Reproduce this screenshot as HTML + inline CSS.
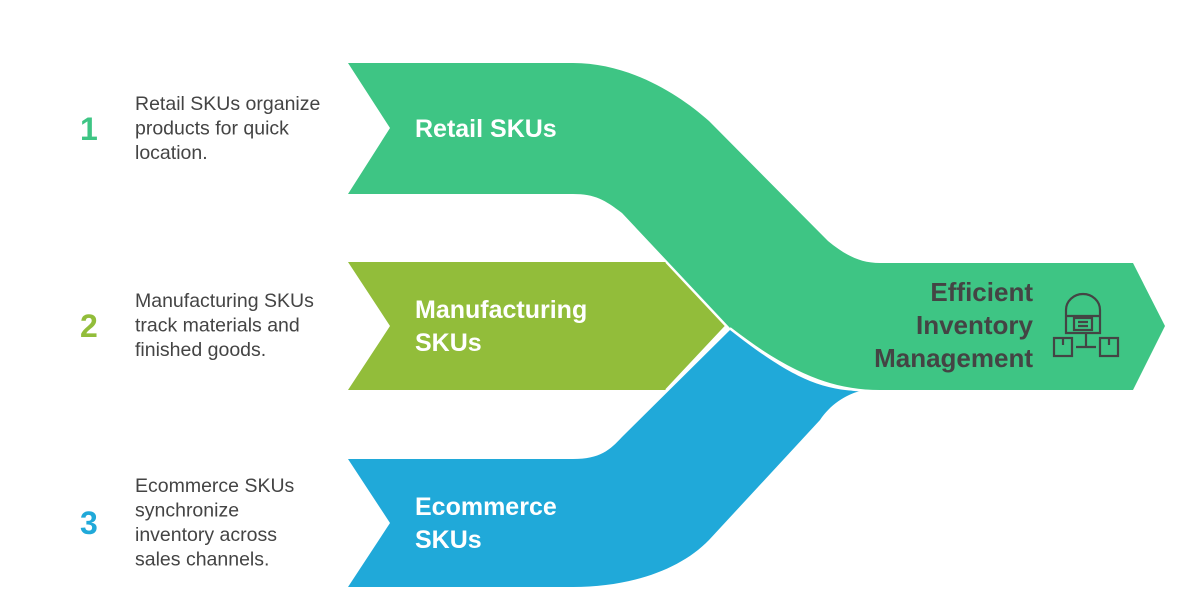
<!DOCTYPE html>
<html><head><meta charset="utf-8"><style>
body{margin:0;width:1200px;height:600px;background:#fff;overflow:hidden;font-family:"Liberation Sans",sans-serif}
</style></head><body>
<svg width="1200" height="600" viewBox="0 0 1200 600" xmlns="http://www.w3.org/2000/svg" font-family="Liberation Sans, sans-serif">
<path d="M348,63 L573,63 C630,63 680,95 709,121 L828,241 C845,255 860,263 880,263 L1133,263 L1165,326 L1133,390 L880,390 C830,390 790,372 730,328 L622,213 C605,200 595,194 573,194 L348,194 L390,128 Z" fill="#3ec584"/>
<path d="M348,262 L666,262 L726,326 L666,390 L348,390 L390,326 Z" fill="#92bd3a"/>
<path d="M348,459 L573,459 C600,459 610,450 622,437 L730,330 C790,377 820,390 860,391 C845,395 830,405 820,420 L709,540 C680,570 630,587 573,587 L348,587 L390,523 Z" fill="#20a9d9"/>
<path d="M730,328 C790,374 825,390 870,391" fill="none" stroke="#fff" stroke-width="2"/>
<path d="M666,262 L726,326 L666,390" fill="none" stroke="#fff" stroke-width="2"/>
<g font-weight="bold" fill="#fff" font-size="25">
<text x="415" y="137">Retail SKUs</text>
<text x="415" y="318">Manufacturing</text>
<text x="415" y="351">SKUs</text>
<text x="415" y="515">Ecommerce</text>
<text x="415" y="548">SKUs</text>
</g>
<g font-weight="bold" fill="#444" font-size="26" text-anchor="end">
<text x="1033" y="301">Efficient</text>
<text x="1033" y="334">Inventory</text>
<text x="1033" y="367">Management</text>
</g>
<g fill="none" stroke="#444" stroke-width="2.2">
<path d="M1066,333 V310 A17,16 0 0 1 1100,310 V333 Z"/>
<path d="M1066,316 H1100"/>
<rect x="1074" y="318" width="18" height="12"/>
<path d="M1078,322 H1088 M1078,326 H1088"/>
<path d="M1086,333 V347 M1076,347 H1096"/>
<rect x="1054" y="338" width="18" height="18"/>
<rect x="1100" y="338" width="18" height="18"/>
<path d="M1063,338 V345 M1109,338 V345"/>
</g>
<g font-weight="bold" font-size="32">
<text x="80" y="140" fill="#3ec584">1</text>
<text x="80" y="337" fill="#92bd3a">2</text>
<text x="80" y="534" fill="#20a9d9">3</text>
</g>
<g fill="#444" font-size="19.5">
<text x="135" y="110">Retail SKUs organize</text>
<text x="135" y="134.5">products for quick</text>
<text x="135" y="159">location.</text>
<text x="135" y="307">Manufacturing SKUs</text>
<text x="135" y="331.5">track materials and</text>
<text x="135" y="356">finished goods.</text>
<text x="135" y="492">Ecommerce SKUs</text>
<text x="135" y="516.5">synchronize</text>
<text x="135" y="541">inventory across</text>
<text x="135" y="565.5">sales channels.</text>
</g>
</svg>
</body></html>
